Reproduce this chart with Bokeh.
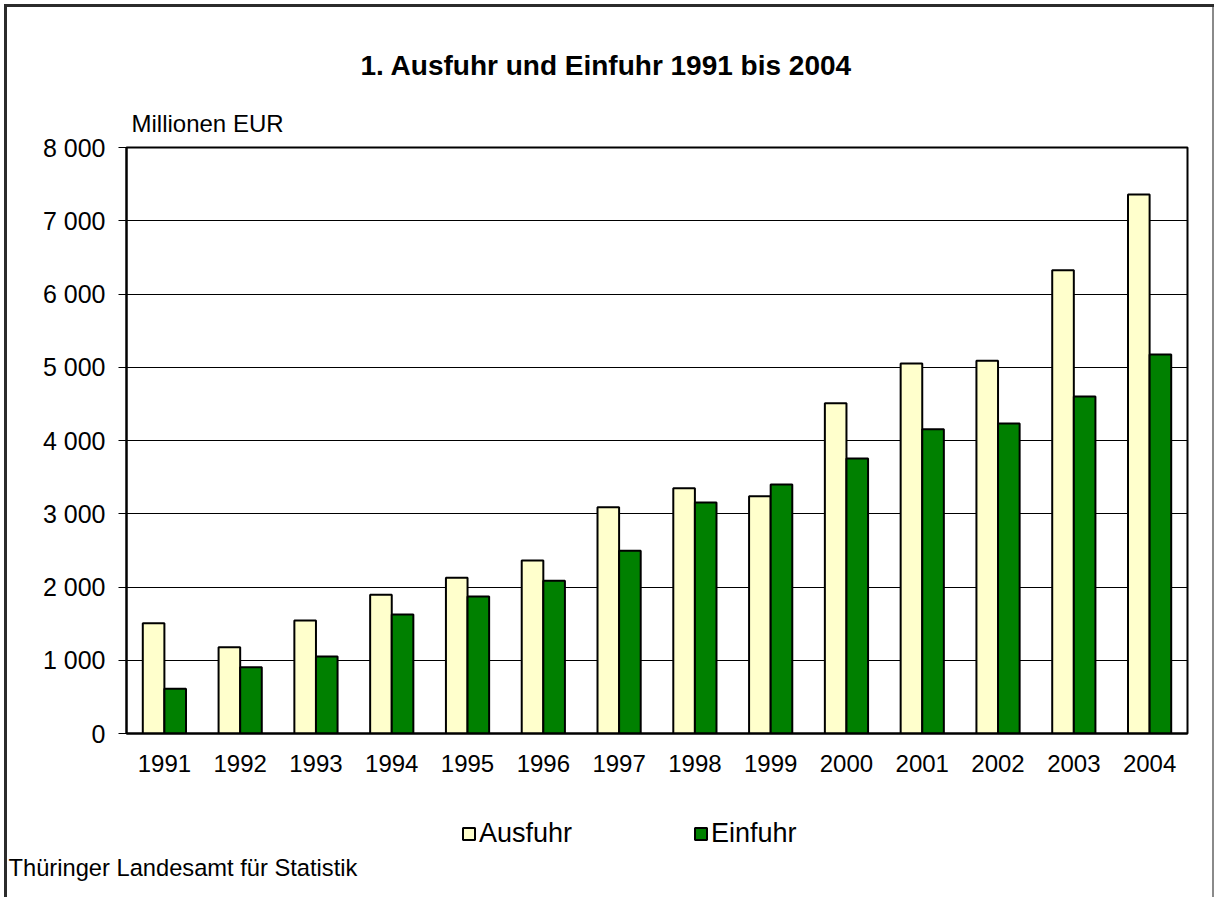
from bokeh.plotting import figure
from bokeh.layouts import column
from bokeh.models import (FactorRange, Range1d, FixedTicker, Legend,
                          LegendItem, ColumnDataSource, Title)
from bokeh.transform import dodge
from bokeh.embed import file_html
from bokeh.resources import INLINE

# ---------------- data ----------------
years = ["1991", "1992", "1993", "1994", "1995", "1996", "1997",
         "1998", "1999", "2000", "2001", "2002", "2003", "2004"]
ausfuhr = [1505, 1178, 1543, 1893, 2125, 2362, 3090,
           3347, 3238, 4510, 5051, 5090, 6325, 7360]
einfuhr = [610, 905, 1051, 1625, 1870, 2084, 2495,
           3155, 3398, 3755, 4154, 4233, 4602, 5175]
y_ticks = [0, 1000, 2000, 3000, 4000, 5000, 6000, 7000, 8000]
y_tick_labels = ["0", "1 000", "2 000", "3 000", "4 000",
                 "5 000", "6 000", "7 000", "8 000"]
series_names = ["Ausfuhr", "Einfuhr"]
series_colors = ["#FFFFCC", "#008000"]
title_text = "1. Ausfuhr und Einfuhr 1991 bis 2004"
unit_text = "Millionen EUR"
source_text = "Thüringer Landesamt für Statistik"

FONT = "Liberation Sans"
W = 1214
H1 = 790          # chart part
H2 = 897 - H1     # legend + source part
FL, FR, FT, FB = 126, 1187, 147, 733   # frame edges in px

src = ColumnDataSource(dict(year=years, ausfuhr=ausfuhr, einfuhr=einfuhr))

# ---------------- main chart ----------------
p = figure(width=W, height=H1,
           x_range=FactorRange(*years, range_padding=0),
           y_range=Range1d(0, 8000),
           output_backend="svg", toolbar_location=None,
           min_border_left=FL, min_border_right=W - FR,
           min_border_top=FT, min_border_bottom=H1 - FB,
           title=None)
p.background_fill_color = "white"
p.border_fill_color = None
p.outline_line_color = "black"
p.outline_line_width = 2

bw = 0.285
bar_style = dict(line_color="black", line_width=2)
xa_pos = dodge("year", -bw / 2, range=p.x_range)
xe_pos = dodge("year", bw / 2, range=p.x_range)
r1 = p.vbar(x=xa_pos, top="ausfuhr", width=bw, source=src,
            fill_color=series_colors[0], **bar_style)
r2 = p.vbar(x=xe_pos, top="einfuhr", width=bw, source=src,
            fill_color=series_colors[1], **bar_style)

p.xgrid.visible = False
p.ygrid.grid_line_color = "black"
p.ygrid.grid_line_width = 1
p.ygrid.ticker = FixedTicker(ticks=y_ticks)

ya = p.yaxis[0]
ya.ticker = FixedTicker(ticks=y_ticks)
ya.major_label_overrides = {t: l for t, l in zip(y_ticks, y_tick_labels)}
ya.major_tick_out = 8
ya.major_tick_in = 0
ya.minor_tick_out = 0
ya.minor_tick_in = 0
ya.axis_line_width = 2
ya.axis_line_color = "black"
ya.major_tick_line_color = "black"
ya.major_label_standoff = 13
ya.major_label_text_font = FONT
ya.major_label_text_font_size = "25px"
ya.major_label_text_color = "black"

xa = p.xaxis[0]
xa.major_tick_out = 0
xa.major_tick_in = 0
xa.axis_line_width = 2
xa.axis_line_color = "black"
xa.major_label_standoff = 21
xa.major_label_text_font = FONT
xa.major_label_text_font_size = "24px"
xa.major_label_text_color = "black"

p.add_layout(Title(text=unit_text, align="left", offset=5, standoff=22,
                   vertical_align="bottom", text_font=FONT,
                   text_font_size="24px", text_font_style="normal",
                   text_color="black"), "above")
p.add_layout(Title(text=title_text, align="left", offset=234, standoff=32,
                   vertical_align="bottom", text_font=FONT,
                   text_font_size="28px", text_font_style="bold",
                   text_color="black"), "above")

# ---------------- legend + source strip ----------------
p2 = figure(width=W, height=H2, x_range=p.x_range, y_range=Range1d(-2, -1),
            x_axis_type=None, y_axis_type=None, output_backend="svg",
            toolbar_location=None, min_border_left=FL,
            min_border_right=W - FR, min_border_top=0, min_border_bottom=45,
            title=None)
p2.background_fill_color = None
p2.border_fill_color = None
p2.outline_line_color = None
p2.grid.visible = False

# legend keys: hidden copies of the bar series, only used for the swatches
k1 = p2.vbar(x=xa_pos, top="ausfuhr", width=bw, source=src,
             fill_color=series_colors[0], visible=False, **bar_style)
k2 = p2.vbar(x=xe_pos, top="einfuhr", width=bw, source=src,
             fill_color=series_colors[1], visible=False, **bar_style)

legend = Legend(items=[LegendItem(label=series_names[0], renderers=[k1]),
                       LegendItem(label=series_names[1], renderers=[k2])],
                orientation="horizontal", location=(335, 3),
                glyph_width=15, glyph_height=15, label_standoff=3,
                label_height=28, spacing=121, padding=0, margin=0,
                border_line_color=None, background_fill_alpha=0,
                inactive_fill_alpha=0, click_policy="none",
                label_text_font=FONT, label_text_font_size="27px",
                label_text_color="black")
p2.add_layout(legend, "center")

p2.add_layout(Title(text=source_text, align="left", offset=-118, standoff=5,
                    vertical_align="top", text_font=FONT,
                    text_font_size="23.7px", text_font_style="normal",
                    text_color="black"), "below")

layout = column(p, p2, spacing=0)
layout.styles = {
    "background-color": "white",
    "box-shadow": ("inset 4px 4px 0 0 #ffffff, inset 7px 7px 0 0 #2b2b2b, "
                   "inset -2px 0 0 0 #8a8a8a"),
}

open("out.html", "w").write(file_html(layout, INLINE))
